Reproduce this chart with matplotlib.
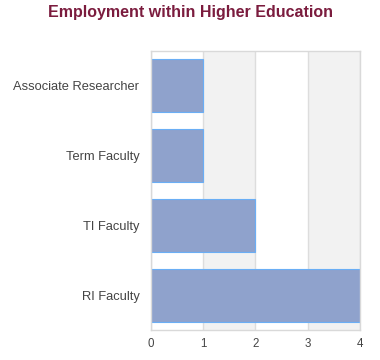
import matplotlib
matplotlib.use("Agg")
import matplotlib.pyplot as plt

categories = ["RI Faculty", "TI Faculty", "Term Faculty", "Associate Researcher"]
values = [4, 2, 1, 1]
xticks = [0, 1, 2, 3, 4]

plt.rcParams['font.family'] = ['Liberation Sans', 'DejaVu Sans']

fig = plt.figure(figsize=(3.8, 3.6), dpi=100)
ax = fig.add_axes([150.5/380, 1-330/360, (360-150.5)/380, (330-50.5)/360])

for i in range(len(xticks) - 1):
    if i % 2 == 1:
        ax.axvspan(xticks[i], xticks[i+1], color='#f2f2f2', zorder=0, lw=0)

ax.barh(range(len(categories)), values, height=0.76, color='#8fa2cc',
        edgecolor='#6aaef5', linewidth=0.8, zorder=2)

ax.set_xlim(0, 4)
ax.set_ylim(-0.5, len(categories) - 0.5)
ax.set_xticks(xticks)
ax.set_yticks(range(len(categories)))
ax.set_yticklabels(categories)
ax.grid(axis='x', color='#dddddd', lw=1, zorder=1)
ax.set_axisbelow(True)
for s in ax.spines.values():
    s.set_color('#d9d9d9')
    s.set_linewidth(1)
ax.tick_params(axis='both', length=0, colors='#444444')
ax.tick_params(axis='y', labelsize=9.3, pad=8)
ax.tick_params(axis='x', labelsize=8.3, pad=6)

fig.text(0.5, 1-13/360, "Employment within Higher Education", ha='center', va='center',
         fontsize=11.5, fontweight='bold', color='#7b1c3e')

fig.savefig("out.png", dpi=100)
